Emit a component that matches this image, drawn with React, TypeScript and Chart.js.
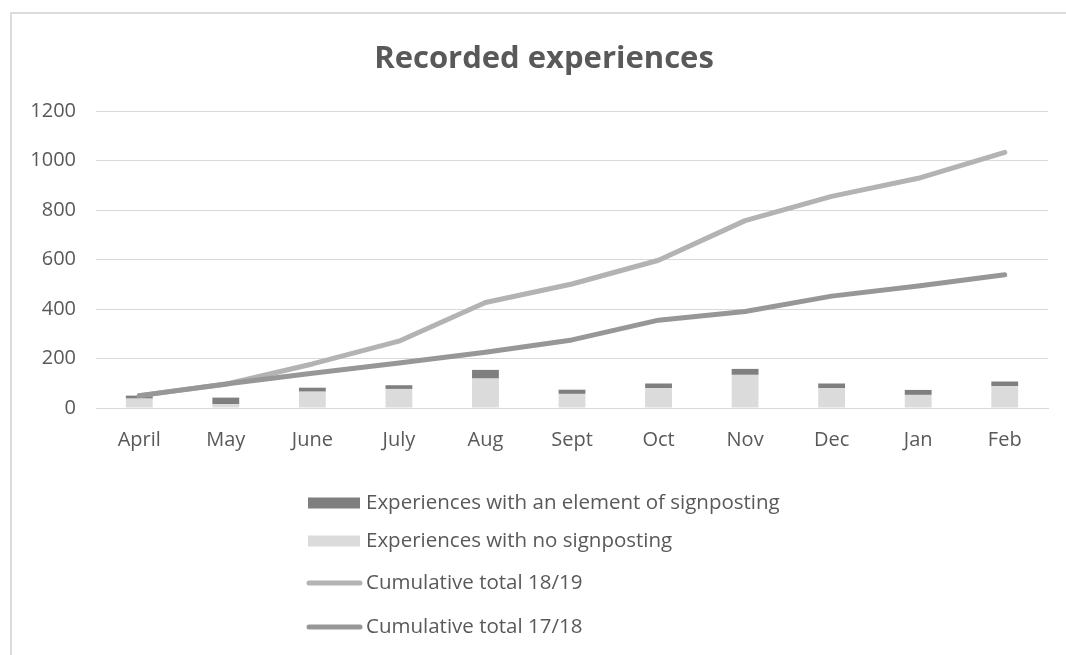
import React, { useEffect, useRef } from "react";
import { Chart, registerables } from "chart.js";

Chart.register(...registerables);

const categories = ["April", "May", "June", "July", "Aug", "Sept", "Oct", "Nov", "Dec", "Jan", "Feb"];
const noSignposting = [38, 15, 66, 77, 119, 57, 80, 134, 80, 53, 88];
const withSignposting = [12, 27, 16, 15, 35, 17, 19, 24, 19, 20, 19];
const cumulative1819 = [50, 96, 178, 270, 426, 501, 597, 757, 855, 928, 1033];
const cumulative1718 = [50, 97, 140, 182, 225, 275, 355, 390, 452, 493, 538];
const yTicks = [0, 200, 400, 600, 800, 1000, 1200];
const titleText = "Recorded experiences";

const FONT = "'Open Sans', 'Liberation Sans', sans-serif";
const TEXT = "#595959";
const DARK_BAR = "#7f7f7f";
const LIGHT_BAR = "#dbdbdb";
const LIGHT_LINE = "#b3b3b3";
const DARK_LINE = "#979797";

const framePlugin = {
  id: "frame",
  beforeDraw(chart: any) {
    const ctx = chart.ctx;
    ctx.save();
    ctx.fillStyle = "#ffffff";
    ctx.fillRect(0, 0, chart.width, chart.height);
    ctx.strokeStyle = "#dcdcdc";
    ctx.lineWidth = 2;
    ctx.beginPath();
    ctx.moveTo(11, chart.height + 5);
    ctx.lineTo(11, 13);
    ctx.lineTo(chart.width + 5, 13);
    ctx.stroke();
    ctx.restore();
  },
  afterDraw(chart: any) {
    const ctx = chart.ctx;
    ctx.save();
    ctx.fillStyle = TEXT;
    ctx.font = `bold 31px ${FONT}`;
    ctx.textAlign = "center";
    ctx.textBaseline = "alphabetic";
    ctx.fillText(titleText, 544, 68);
    const ds = chart.data.datasets;
    const items = [
      { kind: "rect", color: DARK_BAR, text: ds[1].label, y: 503 },
      { kind: "rect", color: LIGHT_BAR, text: ds[0].label, y: 541 },
      { kind: "line", color: LIGHT_LINE, text: ds[2].label, y: 583 },
      { kind: "line", color: DARK_LINE, text: ds[3].label, y: 627 },
    ];
    ctx.font = `20.5px ${FONT}`;
    ctx.textAlign = "left";
    ctx.textBaseline = "middle";
    for (const it of items) {
      if (it.kind === "rect") {
        ctx.fillStyle = it.color;
        ctx.fillRect(308, it.y - 5.5, 52, 11);
      } else {
        ctx.strokeStyle = it.color;
        ctx.lineWidth = 5;
        ctx.lineCap = "round";
        ctx.beginPath();
        ctx.moveTo(309, it.y);
        ctx.lineTo(360, it.y);
        ctx.stroke();
      }
      ctx.fillStyle = TEXT;
      ctx.fillText(it.text, 366, it.y);
    }
    ctx.restore();
  },
};

export default function App() {
  const ref = useRef<HTMLCanvasElement | null>(null);
  useEffect(() => {
    if (!ref.current) return;
    const chart = new Chart(ref.current, {
      type: "bar",
      data: {
        labels: categories,
        datasets: [
          {
            type: "bar",
            label: "Experiences with no signposting",
            data: noSignposting,
            backgroundColor: LIGHT_BAR,
            stack: "bars",
            order: 2,
            barPercentage: 0.31,
            categoryPercentage: 1,
          },
          {
            type: "bar",
            label: "Experiences with an element of signposting",
            data: withSignposting,
            backgroundColor: DARK_BAR,
            stack: "bars",
            order: 2,
            barPercentage: 0.31,
            categoryPercentage: 1,
          },
          {
            type: "line",
            label: "Cumulative total 18/19",
            data: cumulative1819,
            borderColor: LIGHT_LINE,
            backgroundColor: LIGHT_LINE,
            borderWidth: 5,
            borderCapStyle: "round",
            borderJoinStyle: "round",
            pointRadius: 0,
            tension: 0,
            stack: "l1",
            order: 1,
          },
          {
            type: "line",
            label: "Cumulative total 17/18",
            data: cumulative1718,
            borderColor: DARK_LINE,
            backgroundColor: DARK_LINE,
            borderWidth: 5,
            borderCapStyle: "round",
            borderJoinStyle: "round",
            pointRadius: 0,
            tension: 0,
            stack: "l2",
            order: 0,
          },
        ] as any,
      },
      options: {
        animation: false,
        responsive: false,
        maintainAspectRatio: false,
        layout: { padding: { top: 111, right: 18, bottom: 0, left: 0 } },
        plugins: {
          legend: { display: false },
          title: { display: false },
          tooltip: { enabled: false },
        },
        scales: {
          x: {
            stacked: true,
            grid: { display: false, drawTicks: false },
            border: { display: true, color: "#d9d9d9", width: 1 },
            ticks: { color: TEXT, font: { family: FONT, size: 20 }, padding: 20, maxRotation: 0, autoSkip: false },
            afterFit: (s: any) => { s.height = 247; },
          },
          y: {
            stacked: true,
            min: 0,
            max: 1200,
            afterBuildTicks: (s: any) => { s.ticks = yTicks.map((v) => ({ value: v })); },
            grid: { color: "#d9d9d9", lineWidth: 1, drawTicks: false },
            border: { display: false },
            ticks: { color: TEXT, font: { family: FONT, size: 20 }, padding: 20, callback: (v: any) => String(v) },
            afterFit: (s: any) => { s.width = 96; },
          },
        },
      },
      plugins: [framePlugin],
    });
    return () => chart.destroy();
  }, []);
  return (
    <div style={{ position: "fixed", left: 0, top: 0, width: 1066, height: 655, overflow: "hidden", background: "#fff" }}>
      <canvas ref={ref} width={1066} height={655} style={{ display: "block", width: 1066, height: 655 }} />
    </div>
  );
}
